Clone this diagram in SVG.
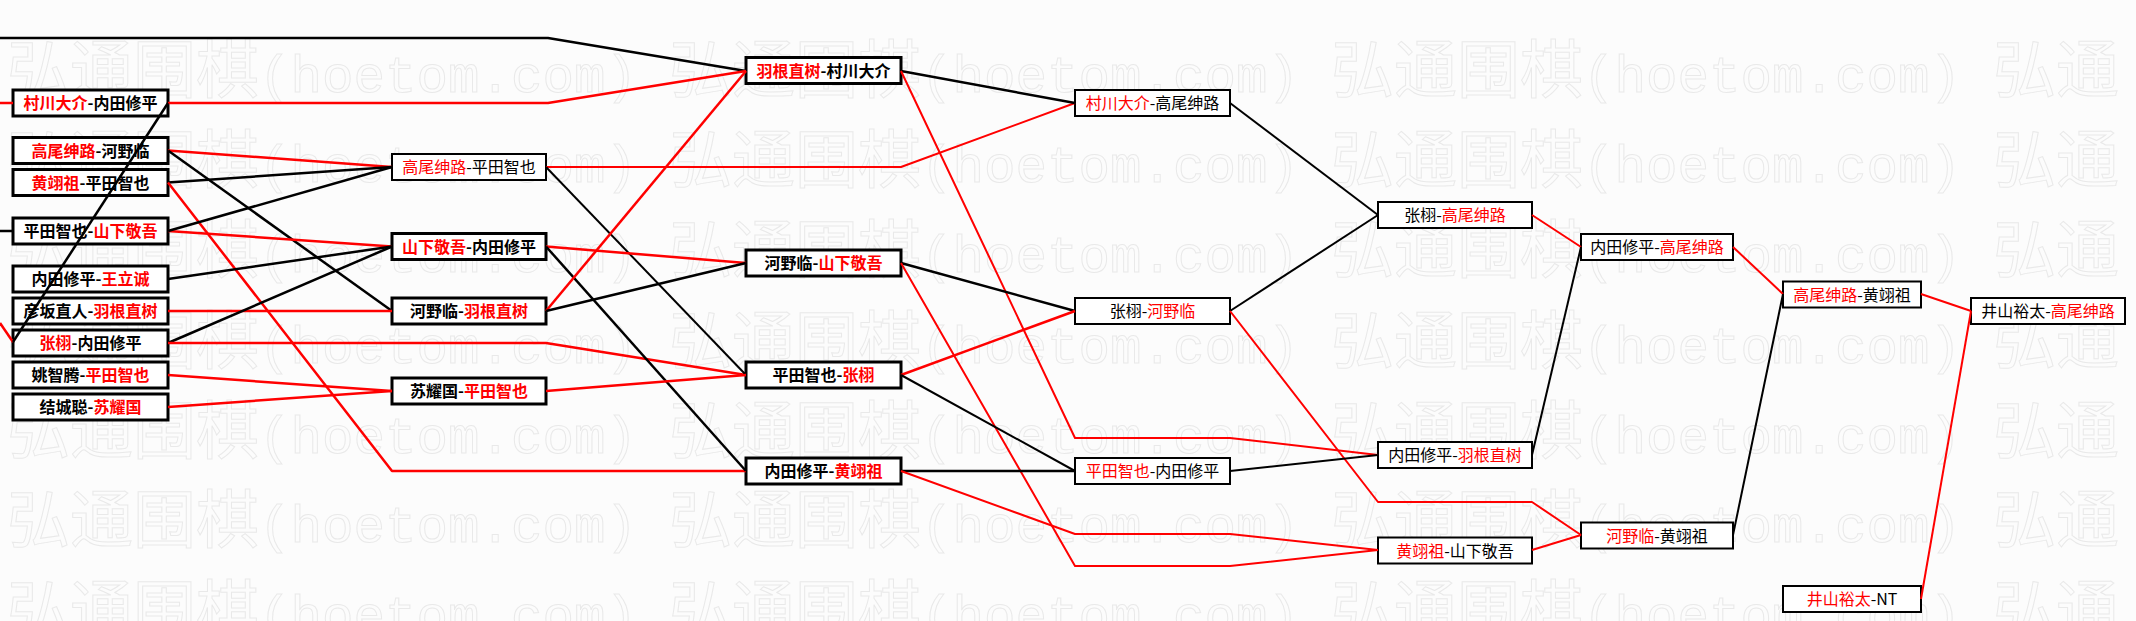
<svg xmlns="http://www.w3.org/2000/svg" width="2136" height="621" viewBox="0 0 2136 621">
<style>
.wm{fill:none;stroke:#e9e9e9;stroke-width:1}
.wc{font-family:"Noto Sans CJK SC",sans-serif;font-size:63px}
.wl{font-family:"Liberation Mono",monospace;font-size:52.5px}
.box{fill:#fff;stroke:#000;stroke-width:3}
.thin{stroke-width:2}
.t{font-family:"Noto Sans CJK SC",sans-serif;font-size:16px;text-anchor:middle;fill:#000}
.b{font-weight:bold}
.r{fill:#f00}
.ln{fill:none;stroke-linejoin:round}
.k{stroke:#000}
.rd{stroke:#f00}
.w3{stroke-width:2.5}
.w2{stroke-width:2}
</style>
<rect x="0" y="0" width="2136" height="621" fill="#fcfcfc"/>
<g id="watermark" class="wm">
<text y="92"><tspan x="7" class="wc">弘通围棋</tspan><tspan class="wl">(hoetom.com)</tspan><tspan x="669" class="wc">弘通围棋</tspan><tspan class="wl">(hoetom.com)</tspan><tspan x="1331" class="wc">弘通围棋</tspan><tspan class="wl">(hoetom.com)</tspan><tspan x="1993" class="wc">弘通</tspan></text>
<text y="182"><tspan x="7" class="wc">弘通围棋</tspan><tspan class="wl">(hoetom.com)</tspan><tspan x="669" class="wc">弘通围棋</tspan><tspan class="wl">(hoetom.com)</tspan><tspan x="1331" class="wc">弘通围棋</tspan><tspan class="wl">(hoetom.com)</tspan><tspan x="1993" class="wc">弘通</tspan></text>
<text y="272"><tspan x="7" class="wc">弘通围棋</tspan><tspan class="wl">(hoetom.com)</tspan><tspan x="669" class="wc">弘通围棋</tspan><tspan class="wl">(hoetom.com)</tspan><tspan x="1331" class="wc">弘通围棋</tspan><tspan class="wl">(hoetom.com)</tspan><tspan x="1993" class="wc">弘通</tspan></text>
<text y="363"><tspan x="7" class="wc">弘通围棋</tspan><tspan class="wl">(hoetom.com)</tspan><tspan x="669" class="wc">弘通围棋</tspan><tspan class="wl">(hoetom.com)</tspan><tspan x="1331" class="wc">弘通围棋</tspan><tspan class="wl">(hoetom.com)</tspan><tspan x="1993" class="wc">弘通</tspan></text>
<text y="453"><tspan x="7" class="wc">弘通围棋</tspan><tspan class="wl">(hoetom.com)</tspan><tspan x="669" class="wc">弘通围棋</tspan><tspan class="wl">(hoetom.com)</tspan><tspan x="1331" class="wc">弘通围棋</tspan><tspan class="wl">(hoetom.com)</tspan><tspan x="1993" class="wc">弘通</tspan></text>
<text y="542"><tspan x="7" class="wc">弘通围棋</tspan><tspan class="wl">(hoetom.com)</tspan><tspan x="669" class="wc">弘通围棋</tspan><tspan class="wl">(hoetom.com)</tspan><tspan x="1331" class="wc">弘通围棋</tspan><tspan class="wl">(hoetom.com)</tspan><tspan x="1993" class="wc">弘通</tspan></text>
<text y="632"><tspan x="7" class="wc">弘通围棋</tspan><tspan class="wl">(hoetom.com)</tspan><tspan x="669" class="wc">弘通围棋</tspan><tspan class="wl">(hoetom.com)</tspan><tspan x="1331" class="wc">弘通围棋</tspan><tspan class="wl">(hoetom.com)</tspan><tspan x="1993" class="wc">弘通</tspan></text>
</g>
<g id="nodes">
<g id="n1"><rect class="box" x="13" y="90" width="155" height="26"/><text class="t b" x="90.5" y="109"><tspan class="r">村川大介</tspan>-内田修平</text></g>
<g id="n2"><rect class="box" x="13" y="137.5" width="155" height="26"/><text class="t b" x="90.5" y="156.5"><tspan class="r">高尾绅路</tspan>-河野临</text></g>
<g id="n3"><rect class="box" x="13" y="169.5" width="155" height="26"/><text class="t b" x="90.5" y="188.5"><tspan class="r">黄翊祖</tspan>-平田智也</text></g>
<g id="n4"><rect class="box" x="13" y="218" width="155" height="26"/><text class="t b" x="90.5" y="237">平田智也-<tspan class="r">山下敬吾</tspan></text></g>
<g id="n5"><rect class="box" x="13" y="266" width="155" height="26"/><text class="t b" x="90.5" y="285">内田修平-<tspan class="r">王立诚</tspan></text></g>
<g id="n6"><rect class="box" x="13" y="298" width="155" height="26"/><text class="t b" x="90.5" y="317">彦坂直人-<tspan class="r">羽根直树</tspan></text></g>
<g id="n7"><rect class="box" x="13" y="330" width="155" height="26"/><text class="t b" x="90.5" y="349"><tspan class="r">张栩</tspan>-内田修平</text></g>
<g id="n8"><rect class="box" x="13" y="362" width="155" height="26"/><text class="t b" x="90.5" y="381">姚智腾-<tspan class="r">平田智也</tspan></text></g>
<g id="n9"><rect class="box" x="13" y="394" width="155" height="26"/><text class="t b" x="90.5" y="413">结城聪-<tspan class="r">苏耀国</tspan></text></g>
<g id="n10"><rect class="box thin" x="392" y="154" width="154" height="26"/><text class="t" x="469" y="173"><tspan class="r">高尾绅路</tspan>-平田智也</text></g>
<g id="n11"><rect class="box" x="392" y="233.5" width="154" height="26"/><text class="t b" x="469" y="252.5"><tspan class="r">山下敬吾</tspan>-内田修平</text></g>
<g id="n12"><rect class="box" x="392" y="298" width="154" height="26"/><text class="t b" x="469" y="317">河野临-<tspan class="r">羽根直树</tspan></text></g>
<g id="n13"><rect class="box" x="392" y="378" width="154" height="26"/><text class="t b" x="469" y="397">苏耀国-<tspan class="r">平田智也</tspan></text></g>
<g id="n14"><rect class="box" x="746" y="57.5" width="155" height="26"/><text class="t b" x="823.5" y="76.5"><tspan class="r">羽根直树</tspan>-村川大介</text></g>
<g id="n15"><rect class="box" x="746" y="250" width="155" height="26"/><text class="t b" x="823.5" y="269">河野临-<tspan class="r">山下敬吾</tspan></text></g>
<g id="n16"><rect class="box" x="746" y="362" width="155" height="26"/><text class="t b" x="823.5" y="381">平田智也-<tspan class="r">张栩</tspan></text></g>
<g id="n17"><rect class="box" x="746" y="458" width="155" height="26"/><text class="t b" x="823.5" y="477">内田修平-<tspan class="r">黄翊祖</tspan></text></g>
<g id="n18"><rect class="box thin" x="1075" y="90" width="155" height="26"/><text class="t" x="1152.5" y="109"><tspan class="r">村川大介</tspan>-高尾绅路</text></g>
<g id="n19"><rect class="box thin" x="1075" y="298" width="155" height="26"/><text class="t" x="1152.5" y="317">张栩-<tspan class="r">河野临</tspan></text></g>
<g id="n20"><rect class="box thin" x="1075" y="458" width="155" height="26"/><text class="t" x="1152.5" y="477"><tspan class="r">平田智也</tspan>-内田修平</text></g>
<g id="n21"><rect class="box thin" x="1378" y="202" width="154" height="26"/><text class="t" x="1455" y="221">张栩-<tspan class="r">高尾绅路</tspan></text></g>
<g id="n22"><rect class="box thin" x="1378" y="442" width="154" height="26"/><text class="t" x="1455" y="461">内田修平-<tspan class="r">羽根直树</tspan></text></g>
<g id="n23"><rect class="box thin" x="1378" y="537.5" width="154" height="26"/><text class="t" x="1455" y="556.5"><tspan class="r">黄翊祖</tspan>-山下敬吾</text></g>
<g id="n24"><rect class="box thin" x="1581" y="234" width="152" height="26"/><text class="t" x="1657" y="253">内田修平-<tspan class="r">高尾绅路</tspan></text></g>
<g id="n25"><rect class="box thin" x="1581" y="522.5" width="152" height="26"/><text class="t" x="1657" y="541.5"><tspan class="r">河野临</tspan>-黄翊祖</text></g>
<g id="n26"><rect class="box thin" x="1783" y="281.5" width="138" height="26"/><text class="t" x="1852" y="300.5"><tspan class="r">高尾绅路</tspan>-黄翊祖</text></g>
<g id="n27"><rect class="box thin" x="1783" y="586" width="138" height="26"/><text class="t" x="1852" y="605"><tspan class="r">井山裕太</tspan>-NT</text></g>
<g id="n28"><rect class="box thin" x="1971" y="298" width="154" height="26"/><text class="t" x="2048" y="317">井山裕太-<tspan class="r">高尾绅路</tspan></text></g>
</g>
<g id="connectors" class="ln">
<polyline class="k w3" points="0,38 548,38 746,71"/>
<polyline class="rd w3" points="0,103 13,103"/>
<polyline class="k w3" points="0,231 13,231"/>
<polyline class="rd w3" points="0,323 13,342"/>
<polyline class="rd w3" points="168,103 548,103 746,71"/>
<polyline class="k w3" points="168,103 13,342"/>
<polyline class="rd w3" points="168,150.5 392,167"/>
<polyline class="k w3" points="168,150.5 392,311"/>
<polyline class="k w3" points="168,182.5 392,167"/>
<polyline class="rd w3" points="168,182.5 392,471 746,471"/>
<polyline class="rd w3" points="168,231 392,246.5"/>
<polyline class="k w3" points="168,231 392,167"/>
<polyline class="k w3" points="168,279 392,246.5"/>
<polyline class="rd w3" points="168,311 392,311"/>
<polyline class="k w3" points="168,343 392,246.5"/>
<polyline class="rd w3" points="168,343 546,343 746,375"/>
<polyline class="rd w3" points="168,375 392,391"/>
<polyline class="rd w3" points="168,407 392,391"/>
<polyline class="rd w2" points="546,167 901,167 1075,103"/>
<polyline class="k w2" points="546,167 746,375"/>
<polyline class="rd w3" points="546,246.5 746,263"/>
<polyline class="k w3" points="546,246.5 746,471"/>
<polyline class="rd w3" points="546,311 746,71"/>
<polyline class="k w3" points="546,311 746,263"/>
<polyline class="rd w3" points="546,391 746,375"/>
<polyline class="k w3" points="901,71 1075,103"/>
<polyline class="rd w2" points="901,71 1075,438 1230,438 1378,455"/>
<polyline class="k w3" points="901,263 1075,311"/>
<polyline class="rd w2" points="901,263 1075,566 1230,566 1378,550"/>
<polyline class="rd w3" points="901,375 1075,311"/>
<polyline class="k w2" points="901,375 1075,471"/>
<polyline class="k w3" points="901,471 1075,471"/>
<polyline class="rd w2" points="901,471 1075,534 1230,534 1378,550"/>
<polyline class="k w2" points="1230,103 1378,215"/>
<polyline class="k w2" points="1230,311 1378,215"/>
<polyline class="rd w2" points="1230,311 1378,502 1532,502 1581,535"/>
<polyline class="k w2" points="1230,471 1378,455"/>
<polyline class="rd w2" points="1532,215 1581,247"/>
<polyline class="k w2" points="1532,455 1581,247"/>
<polyline class="rd w2" points="1532,550 1581,535"/>
<polyline class="rd w2" points="1733,247 1783,294"/>
<polyline class="k w2" points="1733,535 1783,294"/>
<polyline class="rd w2" points="1921,294 1971,311"/>
<polyline class="rd w2" points="1921,599 1971,311"/>
</g>
</svg>
